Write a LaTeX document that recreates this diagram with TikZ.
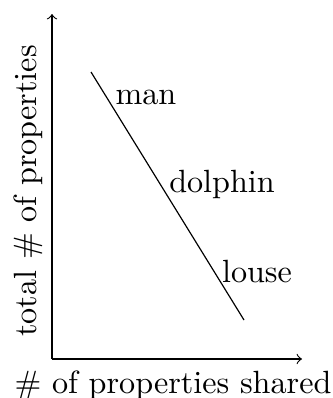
\documentclass[tikz,border=0pt]{standalone}
\begin{document}
\begin{tikzpicture}[x=0.339pt,y=-0.339pt,
  axis/.style={->,line width=0.4pt},
  lab/.style={inner sep=0pt,font=\fontsize{10.9}{13}\selectfont}]
\useasboundingbox (0,0) rectangle (332,398);
\coordinate (o) at (52,359);
\coordinate (ytop) at (52,14);
\coordinate (xend) at (302,359);
\coordinate (ls) at (91,72);
\coordinate (le) at (244,320);
\draw[axis] (o) -- (ytop);
\draw[axis] (o) -- (xend);
\draw (ls) -- (le);
\node[lab] (man) at (146,97) {man};
\node[lab] (dol) at (222,184) {dolphin};
\node[lab] (lou) at (257,272) {louse};
\node[lab] (xl) at (173,385) {\# of properties shared};
\node[lab,rotate=90] (yl) at (28,191) {total \# of properties};
\end{tikzpicture}
\end{document}
